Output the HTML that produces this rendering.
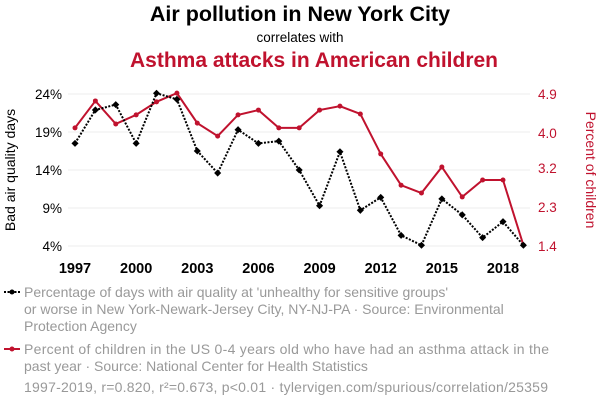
<!DOCTYPE html>
<html><head><meta charset="utf-8"><style>
body{margin:0;background:#fff;width:600px;height:408px;overflow:hidden;font-family:"Liberation Sans",sans-serif}
svg{display:block}
</style></head><body>
<svg id="chart" width="600" height="408">
<text x="300" y="21" text-anchor="middle" font-size="21.5" font-weight="bold" fill="#000">Air pollution in New York City</text>
<text x="300" y="42" text-anchor="middle" font-size="13.5" fill="#000">correlates with</text>
<text x="314" y="67" text-anchor="middle" font-size="21" font-weight="bold" fill="#c0122e">Asthma attacks in American children</text>
<text transform="translate(15,170) rotate(-90)" text-anchor="middle" font-size="14" fill="#000">Bad air quality days</text>
<text transform="translate(586,170) rotate(90)" text-anchor="middle" font-size="14" fill="#c0122e">Percent of children</text>
<g id="axes"></g>
<g id="marks"></g>
<g>
<line x1="4" y1="292" x2="20" y2="292" stroke="#000" stroke-width="2" stroke-dasharray="2,1.5"/>
<circle cx="12" cy="292" r="2.5" fill="#000"/>
<text font-size="14" fill="#999"><tspan x="24" y="297">Percentage of days with air quality at 'unhealthy for sensitive groups'</tspan><tspan x="24" y="314">or worse in New York-Newark-Jersey City, NY-NJ-PA · Source: Environmental</tspan><tspan x="24" y="331">Protection Agency</tspan></text>
</g>
<g>
<line x1="4" y1="349" x2="20" y2="349" stroke="#c0122e" stroke-width="2"/>
<circle cx="12" cy="349" r="2.5" fill="#c0122e"/>
<text font-size="14" fill="#999"><tspan x="24" y="354" textLength="525">Percent of children in the US 0-4 years old who have had an asthma attack in the</tspan><tspan x="24" y="371">past year · Source: National Center for Health Statistics</tspan></text>
</g>
<text x="24" y="392" font-size="14" fill="#999" textLength="524">1997-2019, r=0.820, r²=0.673, p&lt;0.01 · tylervigen.com/spurious/correlation/25359</text>
</svg>
<script>
const years=[1997,1998,1999,2000,2001,2002,2003,2004,2005,2006,2007,2008,2009,2010,2011,2012,2013,2014,2015,2016,2017,2018,2019];
const airDays=[17.5,21.9,22.6,17.5,24.1,23.3,16.5,13.6,19.3,17.5,17.8,14.0,9.3,16.4,8.7,10.4,5.4,4.1,10.2,8.1,5.1,7.2,4.1];
const asthma=[4.12,4.74,4.21,4.42,4.72,4.92,4.23,3.93,4.42,4.53,4.12,4.12,4.53,4.62,4.44,3.52,2.80,2.62,3.22,2.53,2.92,2.92,1.42];
const xTicks=[1997,2000,2003,2006,2009,2012,2015,2018];
const leftTicks=[4,9,14,19,24];
const rightTicks=[1.4,2.3,3.2,4.0,4.9];
const NS="http://www.w3.org/2000/svg";
const x=v=>75+(v-1997)*(503-75)/21;
const yL=v=>246-(v-4)*(152/20);
const yR=v=>246-(v-1.4)*(152/3.5);
const axes=document.getElementById('axes'),marks=document.getElementById('marks');
function mk(t,a,p){const e=document.createElementNS(NS,t);for(const k in a)e.setAttribute(k,a[k]);p.appendChild(e);return e;}
leftTicks.forEach(v=>{
 const g=mk('line',{x1:68,x2:530,y1:yL(v),y2:yL(v),stroke:'#eee','stroke-width':1},axes);
 
 
 const t=mk('text',{x:62,y:yL(v)+5,'text-anchor':'end','font-size':13.5,fill:'#000'},axes);t.textContent=v+'%';
 
 
});
rightTicks.forEach(v=>{
 const t=mk('text',{x:538,y:yR(v)+5,'font-size':13.5,fill:'#c0122e'},axes);t.textContent=v.toFixed(1);
 
 
});
xTicks.forEach(v=>{
 const t=mk('text',{x:x(v),y:273,'text-anchor':'middle','font-size':14.5,'font-weight':'bold',fill:'#000'},axes);t.textContent=v;
 
 
});
const rl=mk('polyline',{points:years.map((y,i)=>x(y)+','+yR(asthma[i])).join(' '),fill:'none',stroke:'#c0122e','stroke-width':2},marks);


const bl=mk('polyline',{points:years.map((y,i)=>x(y)+','+yL(airDays[i])).join(' '),fill:'none',stroke:'#000','stroke-width':2,'stroke-dasharray':'2,1.5'},marks);


years.forEach((y,i)=>{
 const c=mk('circle',{cx:x(y),cy:yR(asthma[i]),r:2.5,fill:'#c0122e'},marks);
 
 
 const d=mk('rect',{x:x(y)-2.5,y:yL(airDays[i])-2.5,width:5,height:5,fill:'#000',transform:`rotate(45 ${x(y)} ${yL(airDays[i])})`},marks);
 
 
});
</script>
</body></html>
